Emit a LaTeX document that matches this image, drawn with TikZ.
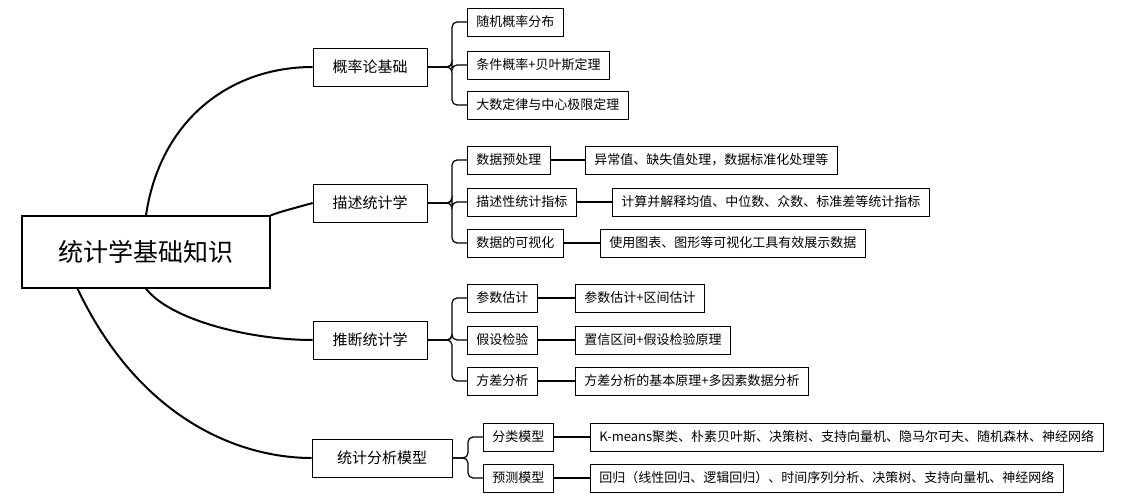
\documentclass[tikz,border=0pt]{standalone}
\usepackage{fontspec}
\setmainfont{Noto Sans CJK SC}
\usetikzlibrary{calc}
\tikzset{
        box/.style={draw, line width=0.6pt, minimum height=28pt, inner xsep=9pt,
                    font=\fontsize{13}{13}\selectfont},
        topic/.style={box, minimum height=38pt, font=\fontsize{15}{15}\selectfont},
        root/.style={draw, line width=1.2pt, minimum width=248pt, minimum height=72pt,
                     font=\fontsize{25}{25}\selectfont},
        link/.style={line width=1.2pt, rounded corners=5pt},
        branch/.style={line width=2pt},
 }
\begin{document}
\begin{tikzpicture}[x=1pt, y=-1pt]
    \useasboundingbox (0,0) rectangle (1132,500);
    \node[root] (root) at (146,252) {统计学基础知识};

    \node[topic, minimum width=114pt] (prob) at (370,67) {概率论基础};
    \node[topic, minimum width=114pt] (desc) at (370,203) {描述统计学};
    \node[topic, minimum width=114pt] (infer) at (370,340) {推断统计学};
    \node[topic, minimum width=140pt] (model) at (382,458) {统计分析模型};

    \draw[branch] (root.north) .. controls (160,120) and (230,67) .. (prob.west);
    \draw[branch] (root.north east) .. controls (280,212) .. (desc.west);
    \draw[branch] (root.south) .. controls (170,320) and (250,340) .. (infer.west);
    \draw[branch] ($(root.south west)!0.45!(root.south)$) .. controls (140,420) and (240,458) .. (model.west);

    % probability
    \node[box, anchor=west] (p1) at (467,22) {随机概率分布};
    \node[box, anchor=west] (p2) at (467,65) {条件概率+贝叶斯定理};
    \node[box, anchor=west] (p3) at (467,105) {大数定律与中心极限定理};
    \coordinate (pj) at (452,67);
    \foreach \c in {p1,p2,p3}
        \draw[link] (prob.east) -- (pj) |- (\c.west);

    % descriptive
    \node[box, anchor=west] (d1) at (467,160) {数据预处理};
    \node[box, anchor=west] (d2) at (467,202) {描述性统计指标};
    \node[box, anchor=west] (d3) at (467,243) {数据的可视化};
    \node[box, anchor=west] (d1x) at (585,160) {异常值、缺失值处理，数据标准化处理等};
    \node[box, anchor=west] (d2x) at (612,202) {计算并解释均值、中位数、众数、标准差等统计指标};
    \node[box, anchor=west] (d3x) at (600,243) {使用图表、图形等可视化工具有效展示数据};
    \coordinate (dj) at (452,203);
    \foreach \c in {d1,d2,d3}{
        \draw[link] (desc.east) -- (dj) |- (\c.west);
        \draw[link] (\c.east) -- (\c x.west);
    }

    % inference
    \node[box, anchor=west] (i1) at (467,298) {参数估计};
    \node[box, anchor=west] (i2) at (467,340) {假设检验};
    \node[box, anchor=west] (i3) at (467,381) {方差分析};
    \node[box, anchor=west] (i1x) at (575,298) {参数估计+区间估计};
    \node[box, anchor=west] (i2x) at (575,340) {置信区间+假设检验原理};
    \node[box, anchor=west] (i3x) at (575,381) {方差分析的基本原理+多因素数据分析};
    \coordinate (ij) at (452,340);
    \foreach \c in {i1,i2,i3}{
        \draw[link] (infer.east) -- (ij) |- (\c.west);
        \draw[link] (\c.east) -- (\c x.west);
    }

    % models
    \node[box, anchor=west] (m1) at (483,437) {分类模型};
    \node[box, anchor=west] (m2) at (483,478) {预测模型};
    \node[box, anchor=west] (m1x) at (590,437) {K-means聚类、朴素贝叶斯、决策树、支持向量机、隐马尔可夫、随机森林、神经网络};
    \node[box, anchor=west] (m2x) at (590,478) {回归（线性回归、逻辑回归）、时间序列分析、决策树、支持向量机、神经网络};
    \coordinate (mj) at (468,458);
    \foreach \c in {m1,m2}{
        \draw[link] (model.east) -- (mj) |- (\c.west);
        \draw[link] (\c.east) -- (\c x.west);
    }
\end{tikzpicture}
\end{document}
